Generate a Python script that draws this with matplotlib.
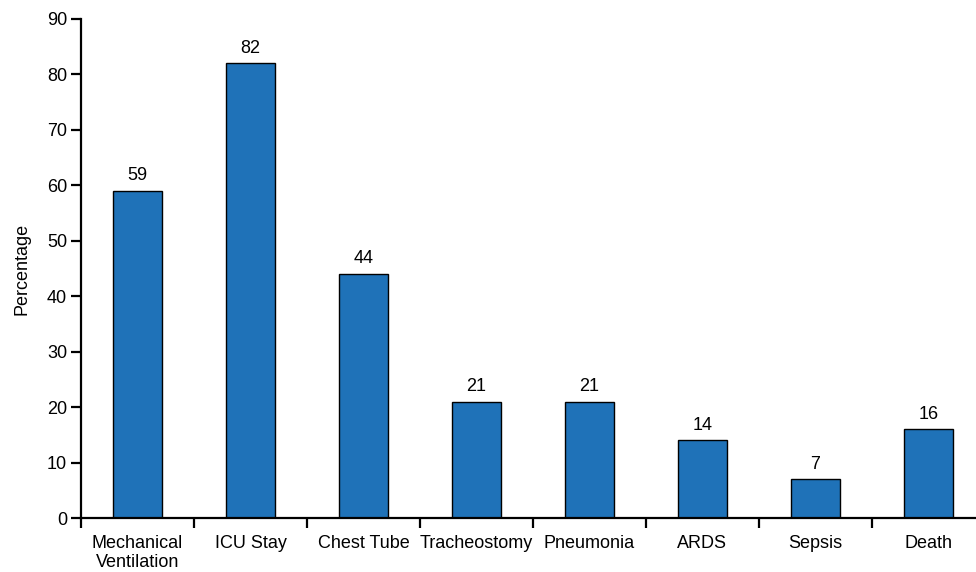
import numpy as np
import matplotlib.pyplot as plt
from matplotlib.ticker import FixedLocator

plt.rcParams['font.family'] = ['Liberation Sans', 'DejaVu Sans']

# Complication rates per outcome
categories = ['Mechanical\nVentilation', 'ICU Stay', 'Chest Tube', 'Tracheostomy',
              'Pneumonia', 'ARDS', 'Sepsis', 'Death']
percentages = [59, 82, 44, 21, 21, 14, 7, 16]

fig = plt.figure(figsize=(9.76, 5.72), dpi=100)
ax = fig.add_axes([0.083, 0.0944, 0.926, 0.8724])

x = np.arange(len(categories))
bars = ax.bar(x, percentages, width=0.43, color='#1f72b8', edgecolor='black', linewidth=1.0)

# value labels above each bar
for xi, v in zip(x, percentages):
    ax.text(xi, v + 1.2, f'{v}', ha='center', va='bottom', fontsize=13)

ax.set_xlim(-0.5, len(categories) - 0.5)
ax.set_ylim(0, 90)
ax.set_yticks(np.arange(0, 91, 10))
ax.set_xticks(x)
ax.set_xticklabels(categories, fontsize=13, linespacing=1.15)
ax.tick_params(axis='x', which='major', length=0, pad=12)
# separator ticks between categories
ax.xaxis.set_minor_locator(FixedLocator(np.arange(-0.5, len(categories), 1.0)))
ax.tick_params(axis='x', which='minor', length=7, width=1.6, direction='out')
ax.tick_params(axis='y', length=7, width=1.6, labelsize=13, pad=3)

for s in ['top', 'right']:
    ax.spines[s].set_visible(False)
for s in ['left', 'bottom']:
    ax.spines[s].set_linewidth(1.6)

ax.set_ylabel('Percentage', fontsize=13, labelpad=12)

fig.savefig('out.png', dpi=100)
